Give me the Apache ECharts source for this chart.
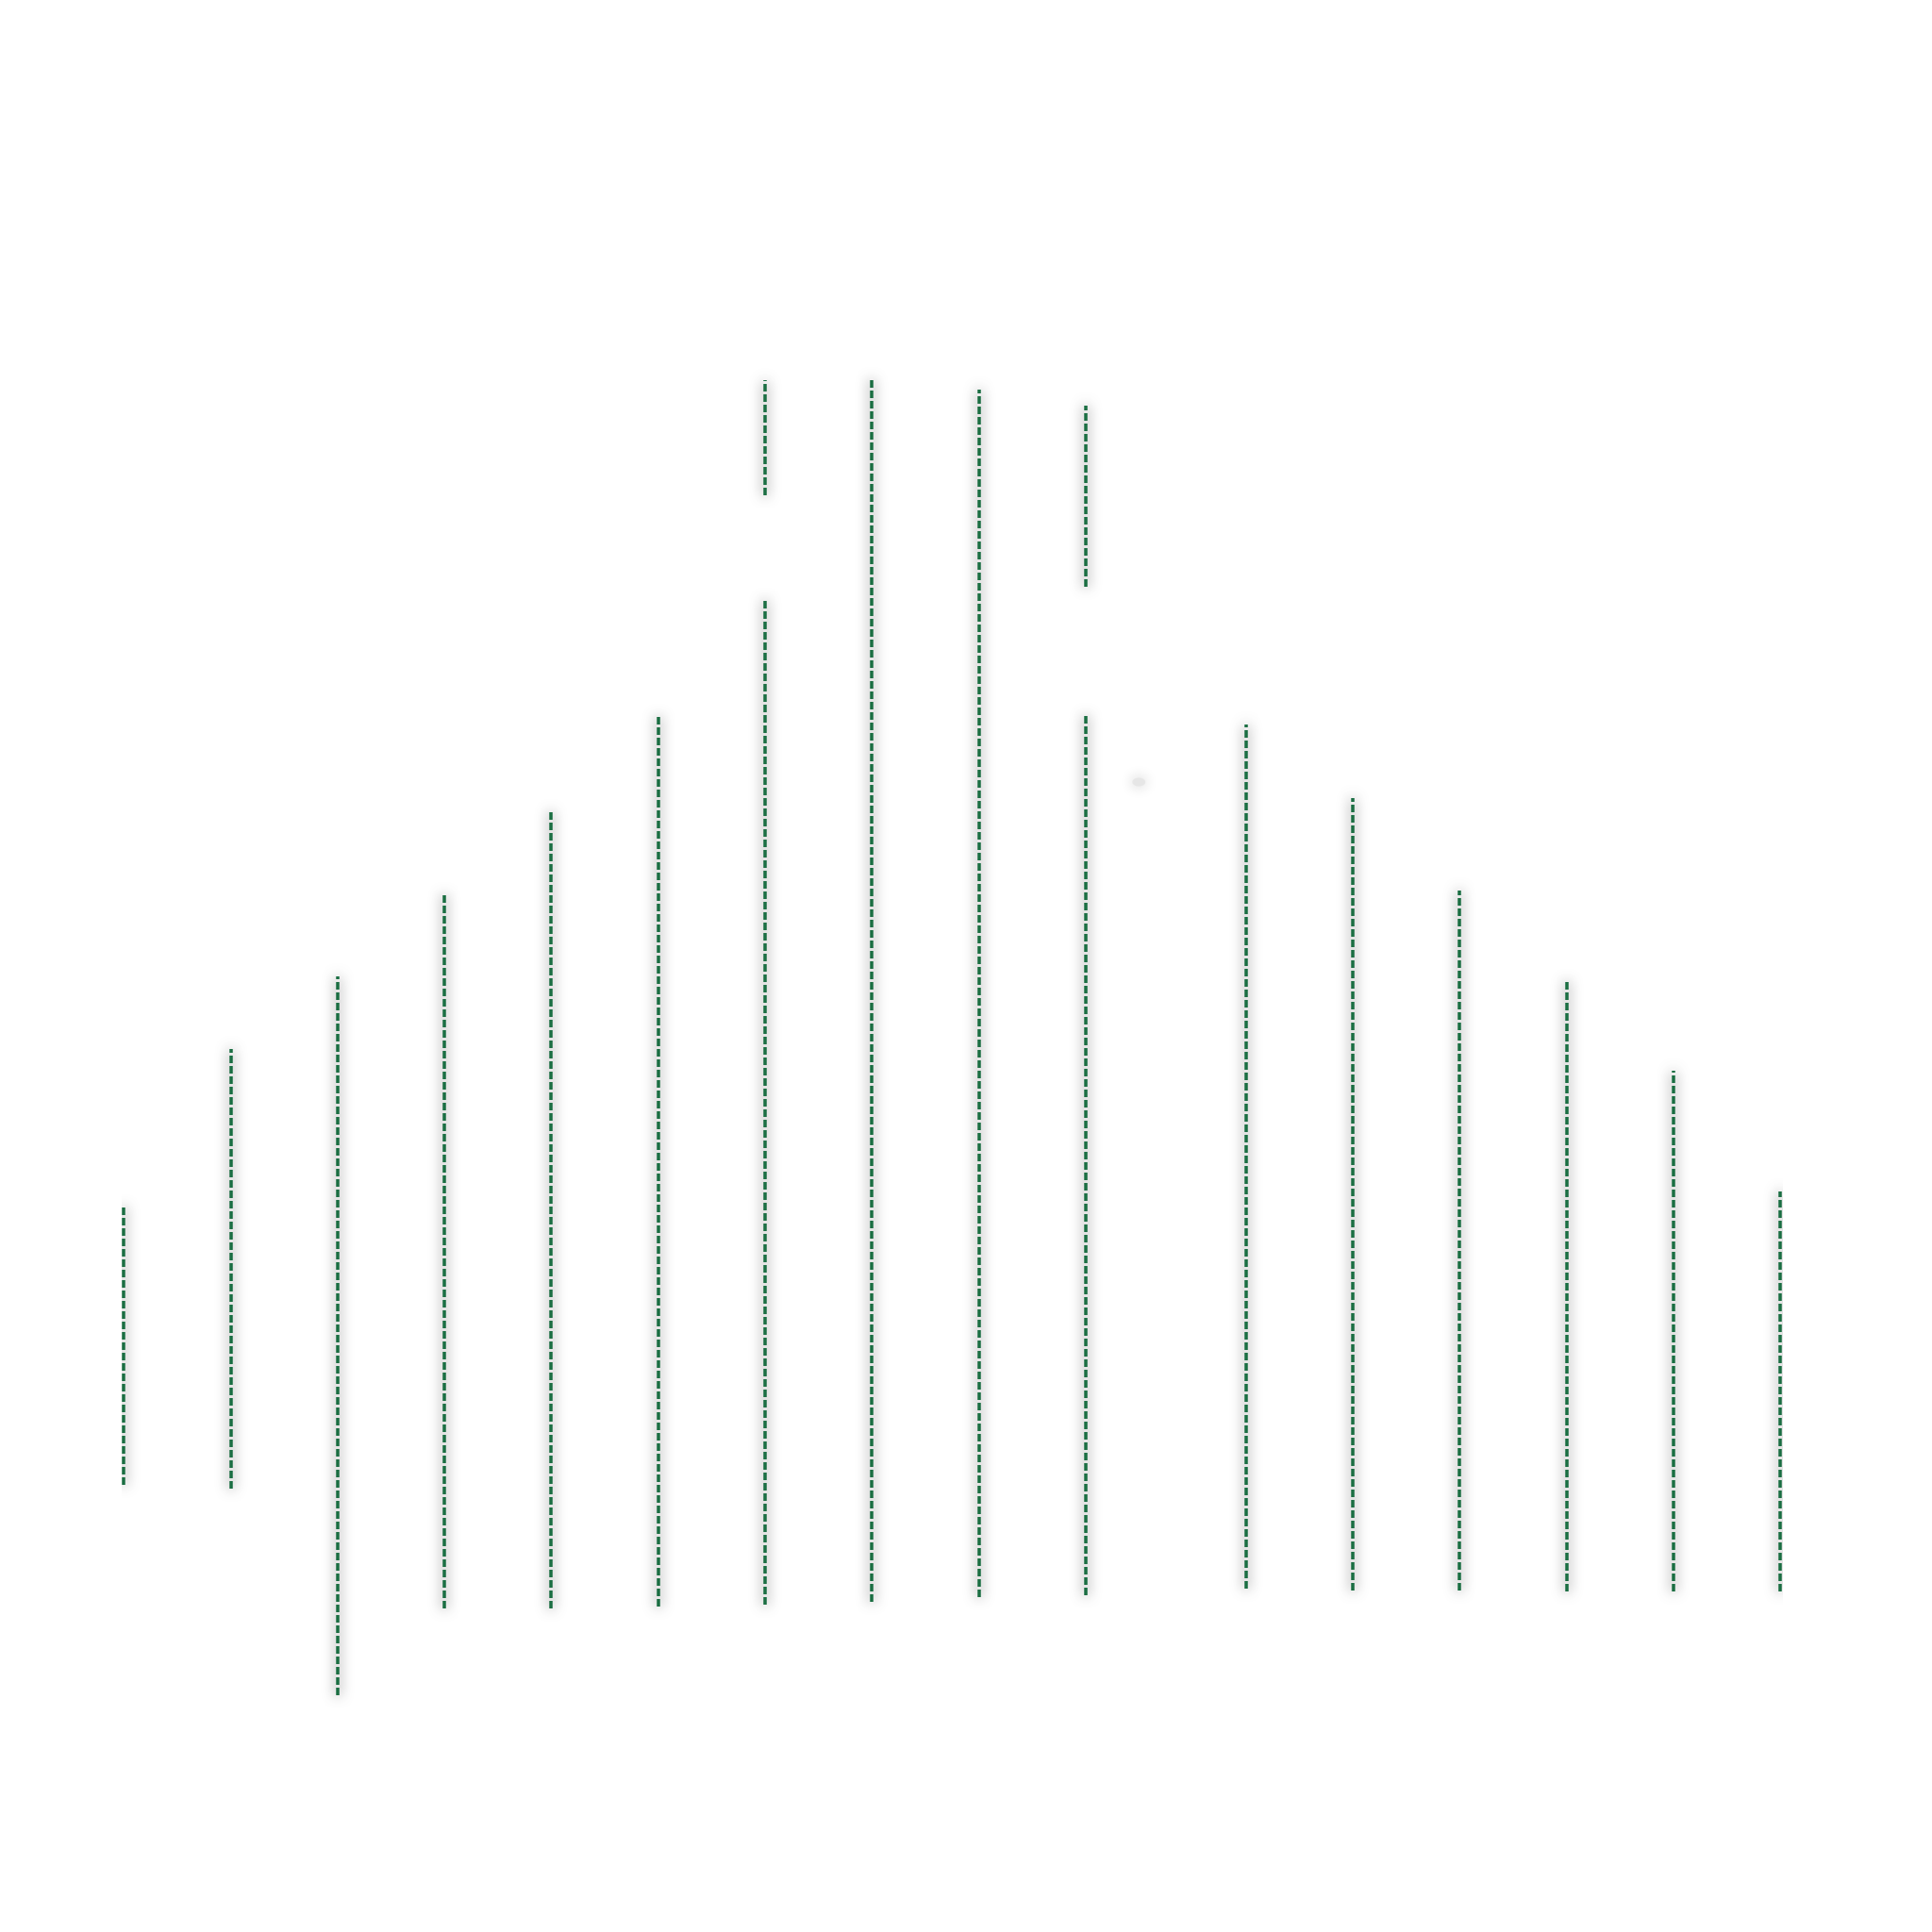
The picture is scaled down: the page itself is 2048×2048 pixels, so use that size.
<!DOCTYPE html>
<html>
<head>
<meta charset="utf-8">
<script src="https://cdn.jsdelivr.net/npm/echarts@6/dist/echarts.min.js"></script>
<style>
html,body{margin:0;padding:0;background:#fff;}
#chart{width:2048px;height:2048px;}
</style>
</head>
<body>
<div id="chart"></div>
<script>
// x positions of the vertical ranges
var xs = [0, 1, 2, 3, 4, 5, 6, 7, 8, 9, 10.5, 11.5, 12.5, 13.5, 14.5, 15.5];
// lower and upper ends of each main range
var lows  = [474, 470, 251, 343, 343, 345, 347, 350, 355, 357, 364, 362, 362, 361, 361, 361];
var highs = [770, 936, 1013, 1099, 1190, 1291, 1411, 1646, 1635, 1290, 1280, 1202, 1104, 1009, 913, 785];
// extra (upper) ranges
var upperXs = [6, 9];
var upperLows = [1523, 1426];
var upperHighs = [1645, 1618];
// isolated point
var pointX = [9.5];
var pointY = [1219];

var lineData = [];
for (var i = 0; i < xs.length; i++) {
  lineData.push({coords: [[xs[i], lows[i]], [xs[i], highs[i]]]});
}
for (var j = 0; j < upperXs.length; j++) {
  lineData.push({coords: [[upperXs[j], upperLows[j]], [upperXs[j], upperHighs[j]]]});
}
var pts = pointX.map(function (x, k) { return [x, pointY[k]]; });

var chart = echarts.init(document.getElementById('chart'));
chart.setOption({
  backgroundColor: '#ffffff',
  animation: false,
  grid: {left: 131, right: 161, top: 0, bottom: 0},
  xAxis: {type: 'value', min: 0, max: 15.5, show: false},
  yAxis: {type: 'value', min: 0, max: 2048, show: false},
  series: [
    {
      type: 'lines',
      coordinateSystem: 'cartesian2d',
      polyline: false,
      symbol: 'none',
      lineStyle: {
        color: '#1a6e42',
        width: 3.5,
        type: [8, 3],
        opacity: 1,
        shadowBlur: 14,
        shadowColor: 'rgba(0,0,0,0.75)'
      },
      data: lineData
    },
    {
      type: 'scatter',
      symbol: 'circle',
      symbolSize: [14, 9],
      itemStyle: {
        color: 'rgba(228,228,228,1)',
        shadowBlur: 14,
        shadowColor: 'rgba(0,0,0,0.3)'
      },
      data: pts
    }
  ]
});
</script>
</body>
</html>
